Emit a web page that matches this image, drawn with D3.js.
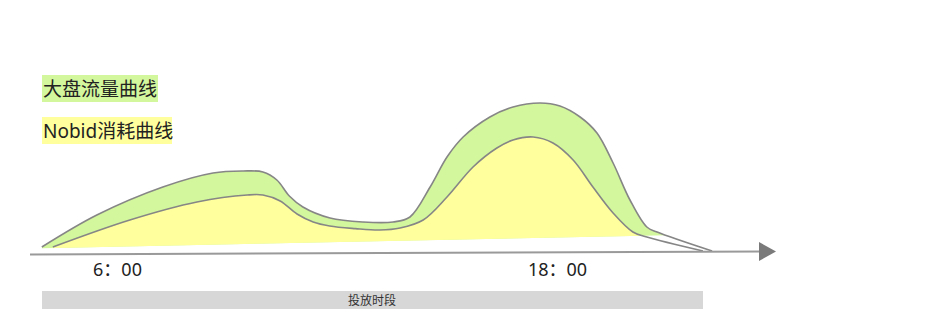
<!DOCTYPE html>
<html>
<head>
<meta charset="utf-8">
<script src="https://cdn.jsdelivr.net/npm/d3@7"></script>
<style>
	body { margin: 0; background: #fff; }
	svg { display: block; font-family: 'Noto Sans', 'Noto Sans CJK SC', sans-serif; }
</style>
</head>
<body>
<svg id="chart" width="933" height="329"></svg>
<script>
// hours of the day for each point, and the traffic level there
const outerHours = [3.95, 5.45, 7.25, 8.62, 9.44, 9.98, 10.36, 10.7, 11.07, 11.81, 12.71, 13.53, 13.99, 14.54, 15.0, 15.44, 16.17, 16.8, 17.54, 18.08, 18.63, 19.09, 19.53, 19.99, 20.45, 20.73, 22.23];
const outerValues = [2.5, 18.5, 32.5, 39.5, 40.5, 40, 36, 28, 22.5, 17, 15, 15, 17.5, 32.5, 47.5, 57.5, 67.5, 72.5, 74.5, 73, 67.5, 59.5, 44.5, 26, 12.5, 10, 0.5];
const innerHours = [4.25, 6.35, 8.18, 9.55, 9.98, 10.45, 10.91, 11.35, 11.8, 12.5, 13.17, 13.72, 14.35, 15.0, 15.71, 16.36, 16.8, 17.35, 17.89, 18.44, 18.98, 19.53, 20.07, 20.45, 21.98];
const innerValues = [2.5, 16, 25, 28.5, 28.5, 25.5, 19, 15, 13, 11.7, 11, 12, 16, 27.5, 42.5, 52, 56, 57.5, 54.5, 46, 32.5, 19.5, 10, 7.5, 0.5];
// bottom edge of the filled bands
const baseHours = [4.25, 20.6];
const baseValues = [2, 8.2];
const tickHours = [6, 18];
const tickLabels = ['6：00', '18：00'];
const legendLabels = ['大盘流量曲线', 'Nobid消耗曲线'];
const periodLabel = '投放时段';

const green = '#d3f79c';
const yellow = '#ffff9e';
const lineColor = '#868686';

const svg = d3.select('#chart');

const x = d3.scaleLinear().domain([6, 18]).range([117, 557]);
const y = d3.scaleLinear().domain([0, 100]).range([252, 52]);
const base = d3.scaleLinear().domain(baseHours).range(baseValues);

const outer = outerHours.map((h, i) => ({ h, v: outerValues[i] }));
const inner = innerHours.map((h, i) => ({ h, v: innerValues[i] }));

// clip the fills to what lies above the sloped base
const clipPts = [
	[x(3), y(base(3))],
	[x(23), y(base(23))],
	[x(23), 0],
	[x(3), 0]
];
svg.append('defs')
	.append('clipPath')
	.attr('id', 'above-base')
	.append('polygon')
	.attr('points', clipPts.map(p => p.join(',')).join(' '));

const curve = d3.curveCatmullRom.alpha(0.5);

const area = d3.area()
	.x(d => x(d.h))
	.y0(y(0))
	.y1(d => y(d.v))
	.curve(curve);

const line = d3.line()
	.x(d => x(d.h))
	.y(d => y(d.v))
	.curve(curve);

const fills = svg.append('g').attr('clip-path', 'url(#above-base)');
fills.append('path').attr('d', area(outer)).attr('fill', green);
fills.append('path').attr('d', area(inner)).attr('fill', yellow);

[outer, inner].forEach(series => {
	svg.append('path')
		.attr('d', line(series))
		.attr('fill', 'none')
		.attr('stroke', lineColor)
		.attr('stroke-width', 1.6);
});

// time axis
svg.append('line')
	.attr('x1', 30).attr('y1', 254.5)
	.attr('x2', 762).attr('y2', 251.5)
	.attr('stroke', '#9a9a9a')
	.attr('stroke-width', 2);
svg.append('path')
	.attr('d', 'M759,242L776,251.5L759,261Z')
	.attr('fill', '#7a7a7a');

const axis = svg.append('g')
	.attr('transform', 'translate(0,254)')
	.call(d3.axisBottom(x)
		.tickValues(tickHours)
		.tickFormat((d, i) => tickLabels[i])
		.tickSize(0)
		.tickPadding(9));
axis.select('.domain').remove();
axis.selectAll('text')
	.attr('font-size', 18)
	.attr('font-family', "'Noto Sans', 'Noto Sans CJK SC', sans-serif")
	.attr('fill', '#222');

// legend
const legendColors = [green, yellow];
const legendWidths = [116, 130];
legendLabels.forEach((label, i) => {
	const top = 75 + i * 42;
	svg.append('rect')
		.attr('x', 42).attr('y', top)
		.attr('width', legendWidths[i]).attr('height', 27)
		.attr('fill', legendColors[i]);
	svg.append('text')
		.attr('x', 43).attr('y', top + 21)
		.attr('font-size', 19)
		.attr('fill', '#222')
		.text(label);
});

// delivery period bar
svg.append('rect')
	.attr('x', 42).attr('y', 291)
	.attr('width', 661).attr('height', 18)
	.attr('fill', '#d7d7d7');
svg.append('text')
	.attr('x', 372).attr('y', 304.5)
	.attr('text-anchor', 'middle')
	.attr('font-size', 12)
	.attr('fill', '#333')
	.text(periodLabel);
</script>
</body>
</html>
